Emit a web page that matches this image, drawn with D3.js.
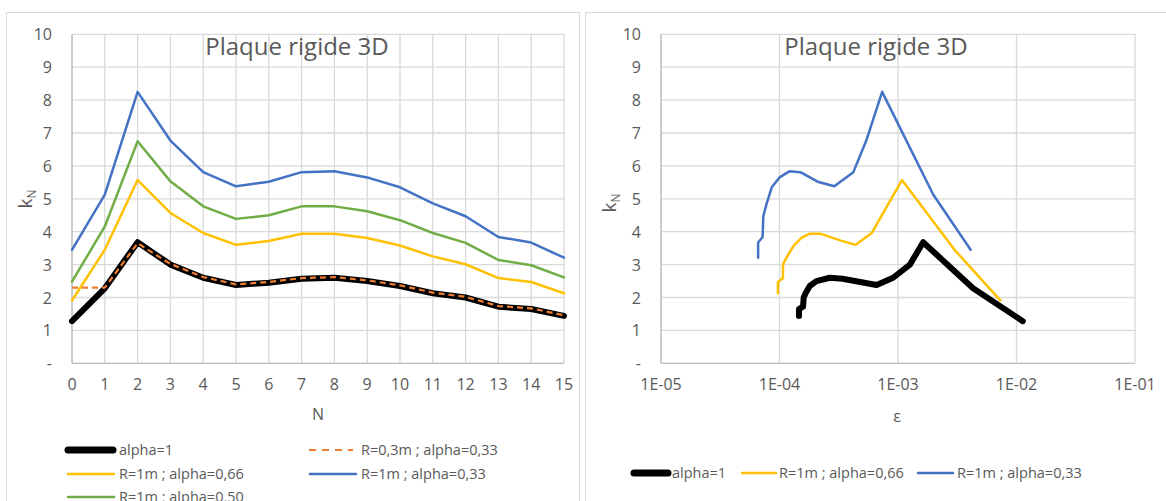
<!DOCTYPE html>
<html><head><meta charset="utf-8">
<script src="https://cdn.jsdelivr.net/npm/d3@7"></script>
<style>
body{margin:0;background:#fff;}
svg text{font-family:"Open Sans",sans-serif;fill:#595959;}
</style></head>
<body><svg id="c" width="1166" height="501"></svg>
<script>
// ---------- DATA ----------
const N = [0,1,2,3,4,5,6,7,8,9,10,11,12,13,14,15];
const kAlpha1   = [1.28,2.28,3.68,3.00,2.60,2.38,2.45,2.57,2.60,2.50,2.35,2.13,2.00,1.72,1.65,1.44];
const kR03a033  = [2.30,2.30,3.65,3.02,2.62,2.40,2.47,2.59,2.62,2.52,2.37,2.15,2.02,1.74,1.67,1.46];
const kR1a066   = [1.91,3.45,5.57,4.57,3.96,3.60,3.72,3.94,3.94,3.81,3.58,3.25,3.01,2.59,2.47,2.13];
const kR1a033   = [3.45,5.13,8.25,6.77,5.81,5.38,5.52,5.81,5.84,5.65,5.35,4.86,4.47,3.84,3.67,3.21];
const kR1a050   = [2.48,4.16,6.75,5.53,4.77,4.39,4.50,4.77,4.77,4.62,4.35,3.96,3.66,3.14,2.98,2.61];
const epsAlpha1 = [1.13e-2,4.3e-3,1.63e-3,1.26e-3,9.1e-4,6.6e-4,5.2e-4,3.4e-4,2.66e-4,2.05e-4,1.8e-4,1.66e-4,1.6e-4,1.58e-4,1.46e-4,1.46e-4];
const epsR1a066 = [7.3e-3,3.0e-3,1.08e-3,7.5e-4,6.0e-4,4.4e-4,3.35e-4,2.2e-4,1.8e-4,1.53e-4,1.32e-4,1.16e-4,1.07e-4,1.07e-4,9.7e-5,9.7e-5];
const epsR1a033 = [4.1e-3,1.98e-3,7.35e-4,5.4e-4,4.2e-4,2.9e-4,2.1e-4,1.5e-4,1.22e-4,1.0e-4,8.6e-5,7.8e-5,7.3e-5,7.2e-5,6.6e-5,6.6e-5];
const yTicks = [0,1,2,3,4,5,6,7,8,9,10];
const yTickLabels = ["-","1","2","3","4","5","6","7","8","9","10"];
const xTicksLog = [1e-5,1e-4,1e-3,1e-2,1e-1];
const xTickLogLabels = ["1E-05","1E-04","1E-03","1E-02","1E-01"];
const chartTitle = "Plaque rigide 3D";
const leftLegend = [
  {name:"alpha=1", key:"a1"},
  {name:"R=0,3m ; alpha=0,33", key:"r03"},
  {name:"R=1m ; alpha=0,66", key:"a066"},
  {name:"R=1m ; alpha=0,33", key:"a033"},
  {name:"R=1m ; alpha=0,50", key:"a050"}
];
const rightLegend = [
  {name:"alpha=1", key:"a1"},
  {name:"R=1m ; alpha=0,66", key:"a066"},
  {name:"R=1m ; alpha=0,33", key:"a033"}
];
// ---------- STYLES ----------
const styles = {
  a1:  {color:"#000000", width:6, dash:null},
  r03: {color:"#ED7D31", width:2.2, dash:"6,4"},
  a066:{color:"#FFC000", width:2.5, dash:null},
  a033:{color:"#4472C4", width:2.5, dash:null},
  a050:{color:"#70AD47", width:2.5, dash:null}
};
const svg = d3.select("#c");
const grid = "#d9d9d9";

// chart borders
svg.append("rect").attr("x",6.5).attr("y",12.5).attr("width",573).attr("height",520)
  .attr("fill","none").attr("stroke","#d9d9d9");
svg.append("rect").attr("x",585.5).attr("y",12.5).attr("width",600).attr("height",520)
  .attr("fill","none").attr("stroke","#d9d9d9");

function drawLine(g, xs, ys, xScale, yScale, st){
  const pts = xs.map((x,i)=>[xScale(x), yScale(ys[i])]);
  const p = g.append("path").attr("d", d3.line()(pts))
    .attr("fill","none").attr("stroke",st.color).attr("stroke-width",st.width)
    .attr("stroke-linejoin","round").attr("stroke-linecap", st.dash? "butt":"round");
  if(st.dash) p.attr("stroke-dasharray", st.dash);
}
function legendItem(g, x1, x2, y, tx, item){
  const st = styles[item.key];
  const l = g.append("line").attr("x1",x1).attr("x2",x2).attr("y1",y).attr("y2",y)
    .attr("stroke",st.color).attr("stroke-width",st.key==="a1"?7:st.width)
    .attr("stroke-linecap", st.dash? "butt":"round");
  if(st.dash) l.attr("stroke-dasharray","7,6");
  g.append("text").attr("x",tx).attr("y",y+5).attr("font-size",14.5).text(item.name);
}
styles.a1.key = "a1";

// ---------- LEFT CHART ----------
{
  const x = d3.scaleLinear().domain([0,15]).range([72,564]);
  const y = d3.scaleLinear().domain([0,10]).range([363.3,34.3]);
  const g = svg.append("g");
  g.selectAll(".vg").data(N).enter().append("line")
    .attr("x1",d=>x(d)).attr("x2",d=>x(d)).attr("y1",y(0)).attr("y2",y(10))
    .attr("stroke",grid).attr("stroke-width",1.3);
  g.selectAll(".hg").data(yTicks).enter().append("line")
    .attr("x1",x(0)).attr("x2",x(15)).attr("y1",d=>y(d)).attr("y2",d=>y(d))
    .attr("stroke",grid).attr("stroke-width",1.3);
  g.append("line").attr("x1",x(0)).attr("x2",x(15)).attr("y1",y(0)).attr("y2",y(0)).attr("stroke","#bfbfbf").attr("stroke-width",1.3);
  g.append("line").attr("x1",x(0)).attr("x2",x(0)).attr("y1",y(0)).attr("y2",y(10)).attr("stroke","#bfbfbf").attr("stroke-width",1.3);
  g.selectAll(".yl").data(yTicks).enter().append("text")
    .attr("x",52).attr("y",d=>y(d)+6).attr("text-anchor","end").attr("font-size",16)
    .text((d,i)=>yTickLabels[i]);
  g.selectAll(".xl").data(N).enter().append("text")
    .attr("x",d=>x(d)).attr("y",390).attr("text-anchor","middle").attr("font-size",16).text(d=>d);
  g.append("text").attr("x",318).attr("y",420).attr("text-anchor","middle").attr("font-size",16).text("N");
  const kt = g.append("text").attr("transform","translate(32,199) rotate(-90)").attr("text-anchor","middle").attr("font-size",19);
  kt.append("tspan").text("k");
  kt.append("tspan").attr("font-size",12).attr("dy",4).text("N");
  g.append("text").attr("x",297).attr("y",55).attr("text-anchor","middle").attr("font-size",24).text(chartTitle);

  drawLine(g, N, kR1a033, x, y, styles.a033);
  drawLine(g, N, kR1a050, x, y, styles.a050);
  drawLine(g, N, kR1a066, x, y, styles.a066);
  drawLine(g, N, kAlpha1, x, y, styles.a1);
  drawLine(g, N, kR03a033, x, y, styles.r03);

  legendItem(g, 68, 113, 450, 119, leftLegend[0]);
  legendItem(g, 309, 353, 450, 361, leftLegend[1]);
  legendItem(g, 68, 114, 474, 119, leftLegend[2]);
  legendItem(g, 310, 356, 474, 361, leftLegend[3]);
  legendItem(g, 68, 114, 497, 119, leftLegend[4]);
}

// ---------- RIGHT CHART ----------
{
  const x = d3.scaleLog().domain([1e-5,1e-1]).range([661,1135]);
  const y = d3.scaleLinear().domain([0,10]).range([363.3,34.3]);
  const g = svg.append("g");
  g.selectAll(".vg").data(xTicksLog).enter().append("line")
    .attr("x1",d=>x(d)).attr("x2",d=>x(d)).attr("y1",y(0)).attr("y2",y(10))
    .attr("stroke",grid).attr("stroke-width",1.3);
  g.selectAll(".hg").data(yTicks).enter().append("line")
    .attr("x1",x(1e-5)).attr("x2",x(1e-1)).attr("y1",d=>y(d)).attr("y2",d=>y(d))
    .attr("stroke",grid).attr("stroke-width",1.3);
  g.append("line").attr("x1",x(1e-5)).attr("x2",x(1e-1)).attr("y1",y(0)).attr("y2",y(0)).attr("stroke","#bfbfbf").attr("stroke-width",1.3);
  g.append("line").attr("x1",x(1e-5)).attr("x2",x(1e-5)).attr("y1",y(0)).attr("y2",y(10)).attr("stroke","#bfbfbf").attr("stroke-width",1.3);
  g.selectAll(".yl").data(yTicks).enter().append("text")
    .attr("x",641).attr("y",d=>y(d)+6).attr("text-anchor","end").attr("font-size",16)
    .text((d,i)=>yTickLabels[i]);
  g.selectAll(".xl").data(xTicksLog).enter().append("text")
    .attr("x",d=>x(d)).attr("y",390).attr("text-anchor","middle").attr("font-size",16)
    .text((d,i)=>xTickLogLabels[i]);
  g.append("text").attr("x",897).attr("y",422).attr("text-anchor","middle").attr("font-size",16).text("ε");
  const kt = g.append("text").attr("transform","translate(616,203) rotate(-90)").attr("text-anchor","middle").attr("font-size",19);
  kt.append("tspan").text("k");
  kt.append("tspan").attr("font-size",12).attr("dy",4).text("N");
  g.append("text").attr("x",876).attr("y",55).attr("text-anchor","middle").attr("font-size",24).text(chartTitle);

  drawLine(g, epsR1a033, kR1a033, x, y, styles.a033);
  drawLine(g, epsR1a066, kR1a066, x, y, styles.a066);
  drawLine(g, epsAlpha1, kAlpha1, x, y, styles.a1);

  legendItem(g, 634, 668, 473, 672, rightLegend[0]);
  legendItem(g, 742, 776, 473, 779, rightLegend[1]);
  legendItem(g, 918, 953, 473, 957, rightLegend[2]);
}
</script></body></html>
